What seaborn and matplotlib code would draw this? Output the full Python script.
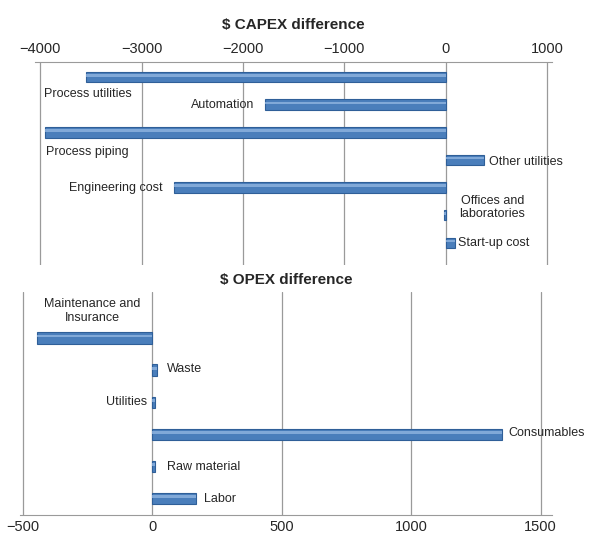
import matplotlib
matplotlib.use("Agg")
import matplotlib.pyplot as plt
import seaborn as sns
import pandas as pd
from matplotlib.patches import Rectangle

# -----------------------------
# Data
# -----------------------------
capex_items = ["Process utilities", "Automation", "Process piping", "Other utilities",
               "Engineering cost", "Offices and\nlaboratories", "Start-up cost"]
capex_values = [-3550, -1780, -3950, 380, -2680, -15, 90]

opex_items = ["Maintenance and\nInsurance", "Waste", "Utilities", "Consumables",
              "Raw material", "Labor"]
opex_values = [-445, 20, 12, 1350, 10, 170]

capex_ticks = [-4000, -3000, -2000, -1000, 0, 1000]
opex_ticks = [-500, 0, 500, 1000, 1500]

BAR = "#4a7ebb"
EDGE = "#2f5f98"
LIGHT = "#8fb4e0"
GRID = "#9a9a9a"

sns.set_style("white")
plt.rcParams["font.family"] = ["Liberation Sans", "DejaVu Sans"]


def style_bars(ax):
    # cylinder-ish look: darker edge plus a light strip on the upper part
    for p in list(ax.patches):
        p.set_edgecolor(EDGE)
        p.set_linewidth(0.8)
        x, y = p.get_x(), p.get_y()
        w, h = p.get_width(), p.get_height()
        ax.add_patch(Rectangle((x, y + h * 0.2), w, h * 0.25, color=LIGHT,
                               lw=0, alpha=0.8, zorder=p.get_zorder() + 0.1))


def panel(ax, items, values, ticks, xlim, ylim, width, title, ticks_on_top):
    df = pd.DataFrame({"item": items, "value": values})
    sns.barplot(data=df, x="value", y="item", orient="h", color=BAR,
                width=width, saturation=1, ax=ax, zorder=3)
    style_bars(ax)
    ax.set_xlim(*xlim)
    ax.set_ylim(*ylim)
    ax.set_xticks(ticks)
    ax.set_xticklabels([f"{t}".replace("-", "\u2212") for t in ticks], fontsize=10.5)
    ax.set_yticks([])
    ax.set_xlabel("")
    ax.set_ylabel("")
    ax.grid(axis="x", color=GRID, lw=0.9, zorder=0)
    for s in ax.spines.values():
        s.set_visible(False)
    if ticks_on_top:
        ax.xaxis.tick_top()
        ax.spines["top"].set_visible(True)
        ax.spines["top"].set_color(GRID)
    else:
        ax.spines["bottom"].set_visible(True)
        ax.spines["bottom"].set_color(GRID)
    ax.tick_params(axis="x", length=0, pad=4)
    ax.set_title(title, fontsize=11, fontweight="bold", pad=24 if ticks_on_top else 6)


fig = plt.figure(figsize=(5.95, 5.43), dpi=100)
ax1 = fig.add_axes([0.059, 0.512, 0.869, 0.374])
ax2 = fig.add_axes([0.034, 0.052, 0.894, 0.41])

panel(ax1, capex_items, capex_values, capex_ticks, (-4050, 1050), (6.8, -0.55), 0.38,
      "$ CAPEX difference", True)
panel(ax2, opex_items, opex_values, opex_ticks, (-510, 1545), (5.5, -1.43), 0.36,
      "$ OPEX difference", False)

fs = 9
# CAPEX labels
ax1.text(-3960, 0.62, capex_items[0], fontsize=fs, ha="left", va="center")
ax1.text(capex_values[1] - 110, 1, capex_items[1], fontsize=fs, ha="right", va="center")
ax1.text(-3940, 2.72, capex_items[2], fontsize=fs, ha="left", va="center")
ax1.text(capex_values[3] + 50, 3.07, capex_items[3], fontsize=fs, ha="left", va="center")
ax1.text(capex_values[4] - 110, 4, capex_items[4], fontsize=fs, ha="right", va="center")
ax1.text(135, 4.72, capex_items[5], fontsize=fs, ha="left", va="center",
         multialignment="center", linespacing=1.2)
ax1.text(capex_values[6] + 30, 6, capex_items[6], fontsize=fs, ha="left", va="center")

# OPEX labels
ax2.text(-231, -0.84, opex_items[0], fontsize=fs, ha="center", va="center",
         multialignment="center", linespacing=1.2)
ax2.text(58, 0.96, opex_items[1], fontsize=fs, ha="left", va="center")
ax2.text(-19, 2, opex_items[2], fontsize=fs, ha="right", va="center")
ax2.text(opex_values[3] + 25, 2.95, opex_items[3], fontsize=fs, ha="left", va="center")
ax2.text(58, 4, opex_items[4], fontsize=fs, ha="left", va="center")
ax2.text(opex_values[5] + 30, 5, opex_items[5], fontsize=fs, ha="left", va="center")

fig.savefig("out.png", dpi=100)
